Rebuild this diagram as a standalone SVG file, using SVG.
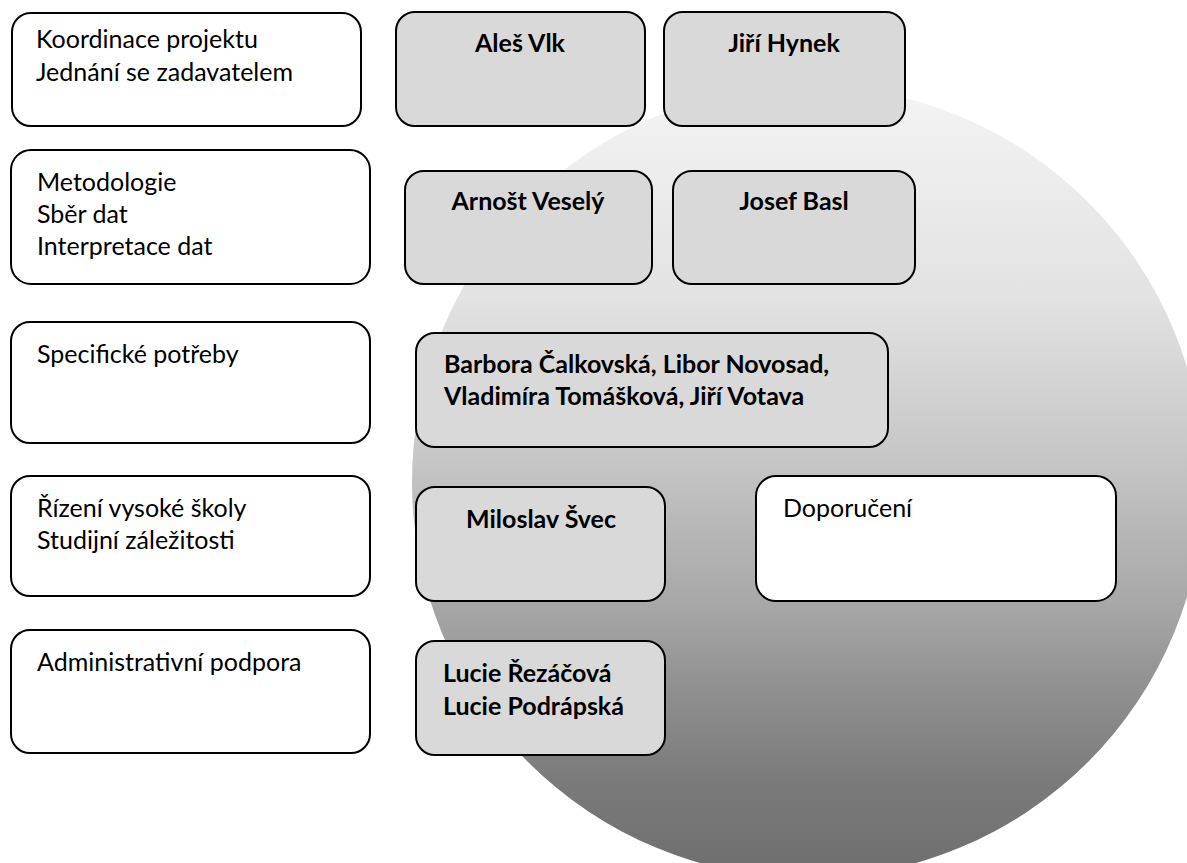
<svg xmlns="http://www.w3.org/2000/svg" width="1187" height="863" viewBox="0 0 1187 863">
<defs>
<linearGradient id="g" gradientUnits="userSpaceOnUse" x1="0" y1="86" x2="0" y2="878">
<stop offset="0" stop-color="#f4f4f4"/>
<stop offset="0.27" stop-color="#e2e2e2"/>
<stop offset="0.47" stop-color="#c6c6c6"/>
<stop offset="0.65" stop-color="#a8a8a8"/>
<stop offset="0.77" stop-color="#8e8e8e"/>
<stop offset="0.88" stop-color="#7a7a7a"/>
<stop offset="1" stop-color="#6e6e6e"/>
</linearGradient>
<style>
.w{fill:#ffffff;stroke:#000;stroke-width:2}
.g{fill:#d9d9d9;stroke:#000;stroke-width:2}
.t{font-family:Lato,"Liberation Sans",sans-serif;font-size:25px;fill:#000}
.b{font-family:Lato,"Liberation Sans",sans-serif;font-size:25px;font-weight:bold;fill:#000}
.c{text-anchor:middle}
</style>
</defs>
<circle id="bg-circle" cx="808" cy="482" r="396" fill="url(#g)"/>
<g id="n-koordinace"><rect class="w" x="12" y="13" width="349" height="113" rx="19"/><text class="t" x="36" y="48">Koordinace projektu</text><text class="t" x="36" y="81">Jednání se zadavatelem</text></g>
<g id="n-metodologie"><rect class="w" x="11" y="150" width="359" height="134" rx="20"/><text class="t" x="37" y="191">Metodologie</text><text class="t" x="37" y="223">Sběr dat</text><text class="t" x="37" y="255">Interpretace dat</text></g>
<g id="n-specificke"><rect class="w" x="11" y="322" width="359" height="121" rx="19"/><text class="t" x="37" y="363">Specifické potřeby</text></g>
<g id="n-rizeni"><rect class="w" x="11" y="476" width="359" height="120" rx="19"/><text class="t" x="37" y="517">Řízení vysoké školy</text><text class="t" x="37" y="549">Studijní záležitosti</text></g>
<g id="n-administrativni"><rect class="w" x="11" y="630" width="359" height="123" rx="19"/><text class="t" x="37" y="671">Administrativní podpora</text></g>
<g id="n-vlk"><rect class="g" x="396" y="12" width="249" height="114" rx="19"/><text class="b c" x="520" y="52">Aleš Vlk</text></g>
<g id="n-hynek"><rect class="g" x="664" y="12" width="241" height="114" rx="19"/><text class="b c" x="784" y="52">Jiří Hynek</text></g>
<g id="n-vesely"><rect class="g" x="405" y="171" width="247" height="113" rx="19"/><text class="b c" x="528" y="210">Arnošt Veselý</text></g>
<g id="n-basl"><rect class="g" x="673" y="171" width="242" height="113" rx="19"/><text class="b c" x="794" y="210">Josef Basl</text></g>
<g id="n-specificke-lide"><rect class="g" x="416" y="333" width="472" height="114" rx="19"/><text class="b" x="444" y="373">Barbora Čalkovská, Libor Novosad,</text><text class="b" x="444" y="405">Vladimíra Tomášková, Jiří Votava</text></g>
<g id="n-svec"><rect class="g" x="416" y="487" width="249" height="114" rx="19"/><text class="b c" x="541" y="528">Miloslav Švec</text></g>
<g id="n-doporuceni"><rect class="w" x="756" y="476" width="360" height="125" rx="20"/><text class="t" x="783" y="517">Doporučení</text></g>
<g id="n-administrativa-lide"><rect class="g" x="416" y="641" width="249" height="114" rx="19"/><text class="b" x="443" y="682">Lucie Řezáčová</text><text class="b" x="443" y="715">Lucie Podrápská</text></g>
<g id="connectors"/>
</svg>
